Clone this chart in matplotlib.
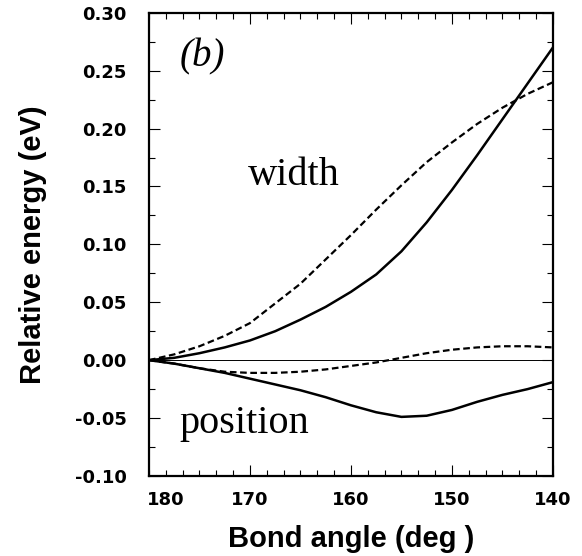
import numpy as np
import matplotlib
matplotlib.use("Agg")
import matplotlib.pyplot as plt
from matplotlib.ticker import MultipleLocator, FixedLocator, FuncFormatter

plt.rcParams['axes.unicode_minus'] = False

# bond angle (deg) and relative energies (eV)
angle = [180, 177.5, 175, 172.5, 170, 167.5, 165, 162.5, 160, 157.5,
         155, 152.5, 150, 147.5, 145, 142.5, 140]
width_solid = [0.0, 0.002, 0.006, 0.011, 0.017, 0.025, 0.035, 0.046, 0.059,
               0.074, 0.094, 0.119, 0.147, 0.177, 0.208, 0.239, 0.270]
width_dashed = [0.0, 0.005, 0.012, 0.021, 0.032, 0.049, 0.066, 0.087, 0.108,
                0.130, 0.151, 0.171, 0.188, 0.204, 0.218, 0.230, 0.240]
pos_solid = [0.0, -0.003, -0.007, -0.011, -0.016, -0.021, -0.026, -0.032,
             -0.039, -0.045, -0.049, -0.048, -0.043, -0.036, -0.030, -0.025, -0.019]
pos_dashed = [0.0, -0.003, -0.007, -0.010, -0.011, -0.011, -0.010, -0.008,
              -0.005, -0.002, 0.002, 0.006, 0.009, 0.011, 0.012, 0.012, 0.011]

yticks = [-0.10, -0.05, 0.00, 0.05, 0.10, 0.15, 0.20, 0.25, 0.30]
xticks = [170, 160, 150, 140]

fig = plt.figure(figsize=(5.82, 5.56), dpi=100)
ax = fig.add_axes([0.256, 0.144, 0.694, 0.833])

ax.axhline(0, color='black', lw=0.7)
ax.plot(angle, width_solid, color='black', lw=1.8, ls='-')
ax.plot(angle, width_dashed, color='black', lw=1.6, ls=(0, (3, 1.6)))
ax.plot(angle, pos_solid, color='black', lw=1.8, ls='-')
ax.plot(angle, pos_dashed, color='black', lw=1.6, ls=(0, (3, 1.6)))

ax.set_xlim(180, 140)
ax.set_ylim(-0.10, 0.30)

ax.xaxis.set_major_locator(FixedLocator(xticks))
ax.xaxis.set_minor_locator(MultipleLocator(10 / 6))
ax.xaxis.set_minor_formatter(FuncFormatter(
    lambda v, p: '180' if abs(v - (180 - 10 / 6)) < 0.01 else ''))
ax.yaxis.set_major_locator(FixedLocator(yticks))
ax.yaxis.set_minor_locator(MultipleLocator(0.025))
ax.yaxis.set_major_formatter(FuncFormatter(lambda v, p: '%.2f' % v))

ax.tick_params(which='both', direction='in', top=True, right=True,
               labelsize=13, width=0.8)
ax.tick_params(which='major', length=8)
ax.tick_params(which='minor', length=4)
ax.tick_params(axis='y', which='both', pad=16)
ax.tick_params(axis='x', which='both', pad=11)
for lab in ax.get_xticklabels(which='both') + ax.get_yticklabels():
    lab.set_fontfamily('DejaVu Sans')
    lab.set_fontweight('bold')

for s in ax.spines.values():
    s.set_linewidth(1.6)

ax.set_xlabel('Bond angle (deg )', fontsize=21, fontweight='bold',
              fontfamily='Liberation Sans')
ax.set_ylabel('Relative energy (eV)', fontsize=21, fontweight='bold',
              fontfamily='Liberation Sans')
ax.xaxis.set_label_coords(0.5, -0.105)
ax.yaxis.set_label_coords(-0.252, 0.5)

ax.text(0.077, 0.905, '(b)', transform=ax.transAxes, fontsize=28,
        fontstyle='italic', fontfamily='Liberation Serif', ha='left', va='center')
ax.text(0.245, 0.628, 'width', transform=ax.transAxes, fontsize=29,
        fontfamily='Liberation Serif', ha='left', va='baseline')
ax.text(0.074, 0.093, 'position', transform=ax.transAxes, fontsize=29,
        fontfamily='Liberation Serif', ha='left', va='baseline')

fig.savefig('out.png', dpi=100)
